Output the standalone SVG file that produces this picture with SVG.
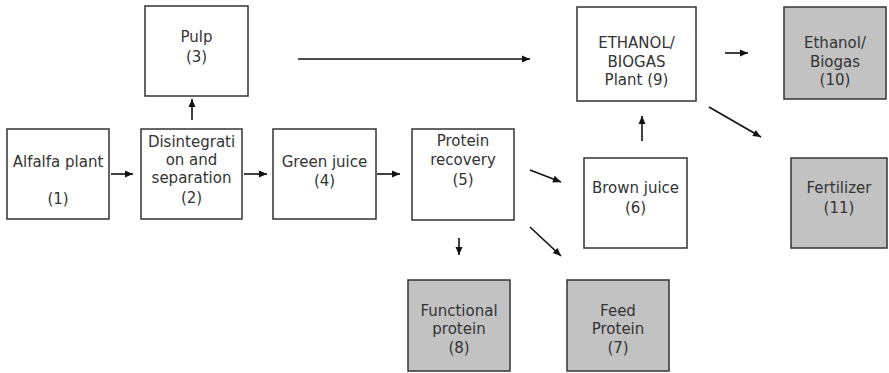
<svg xmlns="http://www.w3.org/2000/svg" width="889" height="373" viewBox="0 0 889 373">
<style>
.box{fill:#fff;stroke:#333;stroke-width:1.5}
.out{fill:#c2c2c2;stroke:#333;stroke-width:1.5}
text{font-family:"DejaVu Sans",Verdana,sans-serif;font-size:15px;fill:#333;text-anchor:middle}
.c line{stroke:#111;stroke-width:1.6;marker-end:url(#ah)}
</style>
<defs>
<marker id="ah" markerUnits="userSpaceOnUse" markerWidth="10" markerHeight="10" viewBox="0 0 10 10" refX="9" refY="5" orient="auto">
<path d="M1,1.5 L9,5 L1,8.5 Z" fill="#111"/>
</marker>
</defs>
<g id="n1"><rect class="box" x="7" y="129" width="102" height="90"/><text x="58" y="167">Alfalfa plant</text><text x="58" y="204">(1)</text></g>
<g id="n2"><rect class="box" x="141" y="129" width="101" height="90"/><text x="191.5" y="147">Disintegrati</text><text x="191.5" y="165">on and</text><text x="191.5" y="183">separation</text><text x="191.5" y="203">(2)</text></g>
<g id="n3"><rect class="box" x="145" y="6" width="103" height="90"/><text x="196.5" y="42">Pulp</text><text x="196.5" y="62">(3)</text></g>
<g id="n4"><rect class="box" x="273" y="129" width="103" height="90"/><text x="324.5" y="167">Green juice</text><text x="324.5" y="186">(4)</text></g>
<g id="n5"><rect class="box" x="412" y="129" width="102" height="91"/><text x="463" y="146">Protein</text><text x="463" y="165">recovery</text><text x="463" y="185">(5)</text></g>
<g id="n6"><rect class="box" x="584" y="158" width="103" height="90"/><text x="635.5" y="193">Brown juice</text><text x="635.5" y="213">(6)</text></g>
<g id="n7"><rect class="out" x="567" y="280" width="102" height="91"/><text x="618" y="316">Feed</text><text x="618" y="334">Protein</text><text x="618" y="353">(7)</text></g>
<g id="n8"><rect class="out" x="408" y="280" width="102" height="91"/><text x="459" y="316">Functional</text><text x="459" y="334">protein</text><text x="459" y="353">(8)</text></g>
<g id="n9"><rect class="box" x="577" y="7" width="119" height="94"/><text x="636.5" y="48">ETHANOL/</text><text x="636.5" y="67">BIOGAS</text><text x="636.5" y="85">Plant (9)</text></g>
<g id="n10"><rect class="out" x="784" y="7" width="102" height="92"/><text x="835" y="48">Ethanol/</text><text x="835" y="67">Biogas</text><text x="835" y="85">(10)</text></g>
<g id="n11"><rect class="out" x="791" y="158" width="96" height="90"/><text x="839" y="193">Fertilizer</text><text x="839" y="213">(11)</text></g>
<g id="connectors" class="c">
<line x1="111" y1="174" x2="133" y2="174"/>
<line x1="244" y1="174" x2="267" y2="174"/>
<line x1="377" y1="174" x2="400" y2="174"/>
<line x1="192" y1="120" x2="192" y2="99"/>
<line x1="298" y1="59" x2="530" y2="59"/>
<line x1="725" y1="53" x2="748" y2="53"/>
<line x1="642" y1="141" x2="642" y2="116"/>
<line x1="709" y1="107" x2="761" y2="137"/>
<line x1="530" y1="170" x2="561" y2="182"/>
<line x1="530" y1="227" x2="561" y2="256"/>
<line x1="459" y1="238" x2="459" y2="255"/>
</g>
</svg>
